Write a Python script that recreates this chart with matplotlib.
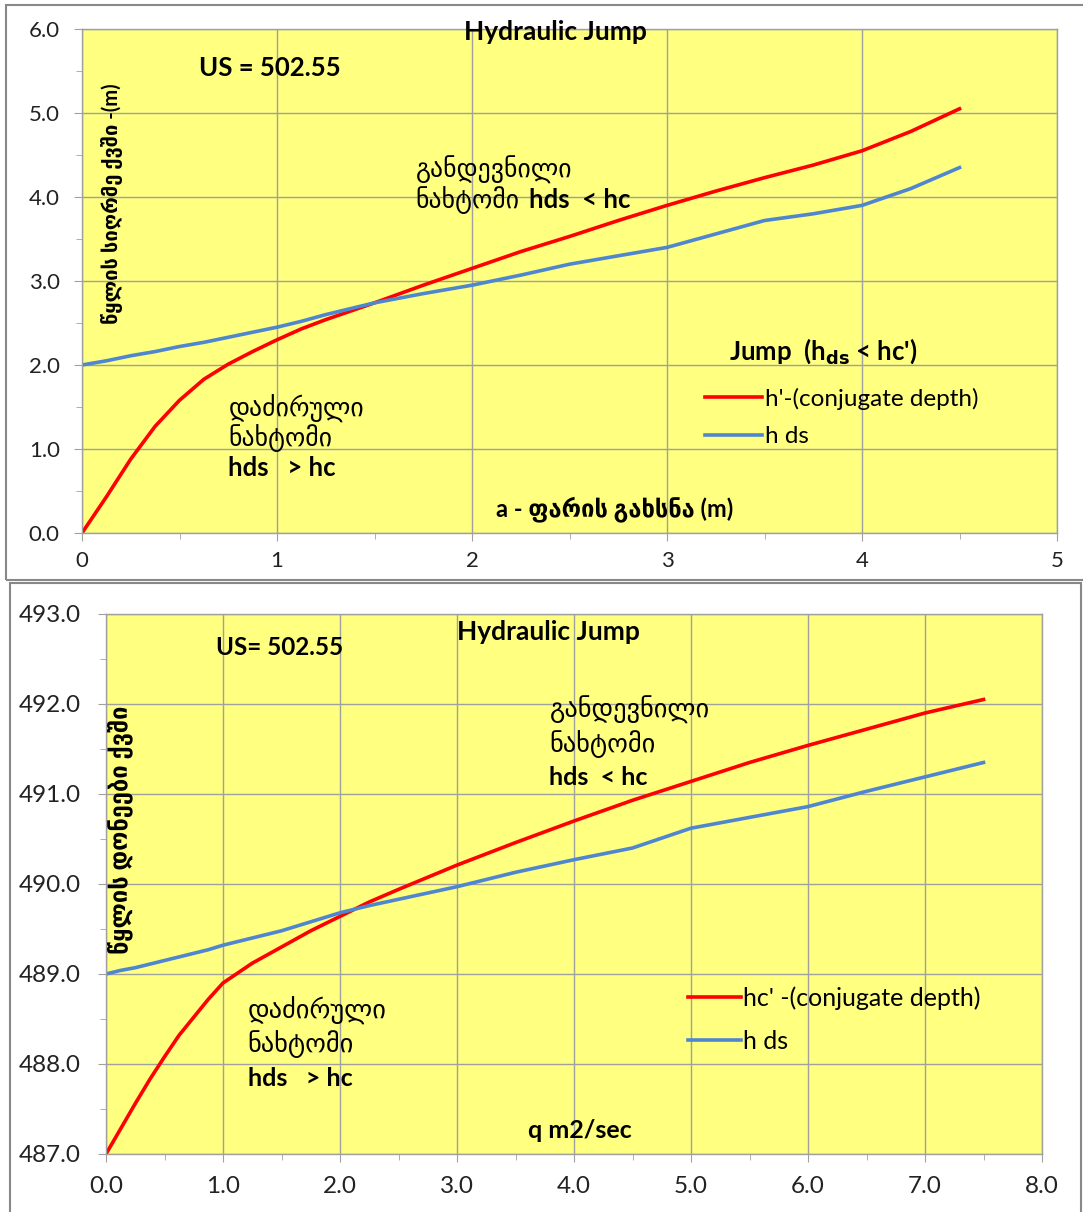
import matplotlib
matplotlib.use("Agg")
import matplotlib.pyplot as plt
from matplotlib.patches import Rectangle
from matplotlib.ticker import MultipleLocator, FormatStrFormatter

plt.rcParams['font.family'] = ['Lato', 'DejaVu Sans']

# top chart: gate opening a (m) vs depth (m)
a_open = [0, 0.125, 0.25, 0.375, 0.5, 0.625, 0.75, 0.875, 1.0, 1.125, 1.25, 1.375,
          1.5, 1.75, 2.0, 2.25, 2.5, 2.75, 3.0, 3.25, 3.5, 3.75, 4.0, 4.25, 4.5]
h_conj_a = [0.0, 0.43, 0.88, 1.27, 1.58, 1.83, 2.01, 2.16, 2.3, 2.43, 2.54, 2.64,
            2.74, 2.95, 3.15, 3.35, 3.53, 3.72, 3.9, 4.07, 4.23, 4.38, 4.55, 4.78, 5.05]
h_ds_a = [2.0, 2.05, 2.11, 2.16, 2.22, 2.27, 2.33, 2.39, 2.45, 2.52, 2.6, 2.67,
          2.74, 2.85, 2.95, 3.07, 3.2, 3.3, 3.4, 3.56, 3.72, 3.8, 3.9, 4.1, 4.35]

# bottom chart: unit discharge q vs water levels
q_vals = [0, 0.125, 0.25, 0.375, 0.5, 0.625, 0.75, 0.875, 1.0, 1.25, 1.5, 1.75,
          2.0, 2.25, 2.5, 3.0, 3.5, 4.0, 4.5, 5.0, 5.5, 6.0, 6.5, 7.0, 7.5]
h_conj_q = [487.0, 487.28, 487.56, 487.83, 488.08, 488.32, 488.52, 488.72, 488.9,
            489.12, 489.3, 489.48, 489.64, 489.8, 489.94, 490.21, 490.46, 490.7,
            490.93, 491.14, 491.35, 491.54, 491.72, 491.9, 492.05]
h_ds_q = [489.0, 489.04, 489.07, 489.11, 489.15, 489.19, 489.23, 489.27, 489.32,
          489.4, 489.48, 489.58, 489.68, 489.76, 489.83, 489.97, 490.13, 490.27,
          490.4, 490.62, 490.74, 490.86, 491.03, 491.19, 491.35]

RED = '#FF0000'
BLUE = '#4F86D0'
BG = '#FFFF80'
GRID = '#A0A0A0'
TXT = '#222222'

fig = plt.figure(figsize=(10.83, 12.12), dpi=100)

# outer chart boxes
fig.patches.append(Rectangle((6 / 1083, 1 - 580 / 1212), 1.2, 575 / 1212,
                             transform=fig.transFigure, fill=False,
                             edgecolor='#888888', lw=1.5))
fig.patches.append(Rectangle((10 / 1083, -0.1), 1071 / 1083, 0.1 + 1 - 583 / 1212,
                             transform=fig.transFigure, fill=False,
                             edgecolor='#888888', lw=1.5))


def style_axes(ax):
    ax.set_facecolor(BG)
    ax.grid(True, which='major', color=GRID, lw=1.0)
    ax.set_axisbelow(True)
    for s in ax.spines.values():
        s.set_color(GRID)
        s.set_linewidth(1.0)
    ax.tick_params(which='both', direction='out', color=GRID, length=6)
    ax.tick_params(which='minor', length=4)
    ax.tick_params(labelcolor=TXT)


# ---------------- top chart ----------------
ax1 = fig.add_axes([82 / 1083, 1 - 533 / 1212, 975 / 1083, 504 / 1212])
style_axes(ax1)
ax1.plot(a_open, h_conj_a, color=RED, lw=2.6, label="h'-(conjugate depth)")
ax1.plot(a_open, h_ds_a, color=BLUE, lw=2.6, label="h ds")
ax1.set_xlim(0, 5)
ax1.set_ylim(0, 6)
ax1.xaxis.set_major_locator(MultipleLocator(1))
ax1.xaxis.set_minor_locator(MultipleLocator(0.5))
ax1.yaxis.set_major_locator(MultipleLocator(1))
ax1.yaxis.set_minor_locator(MultipleLocator(0.5))
ax1.yaxis.set_major_formatter(FormatStrFormatter('%.1f'))
ax1.tick_params(labelsize=16)
ax1.tick_params(axis='x', pad=7)
ax1.tick_params(axis='y', pad=10)

ax1.text(2.43, 5.96, "Hydraulic Jump", fontsize=19, fontweight='bold',
         ha='center', va='center')
ax1.text(0.6, 5.53, "US = 502.55", fontsize=18.5, fontweight='bold',
         va='center')
ax1.text(0.155, 3.92, "წყლის სიღრმე ქვში -(m)", rotation=90, fontsize=14.5,
         fontweight='bold', ha='center', va='center')
ax1.text(1.71, 4.23, "განდევნილი", fontsize=18.5, va='baseline')
ax1.text(1.71, 3.87, "ნახტომი", fontsize=18.5, va='baseline')
ax1.text(2.29, 3.87, "hds  < hc", fontsize=18.5, fontweight='bold', va='baseline')
ax1.text(3.32, 2.07, r"Jump  (h$_\mathbf{ds}$ < hc')", fontsize=18.5,
         fontweight='bold', va='baseline')
ax1.text(0.75, 1.38, "დაძირული", fontsize=18.5, va='baseline')
ax1.text(0.75, 1.04, "ნახტომი", fontsize=18.5, va='baseline')
ax1.text(0.75, 0.68, "hds   > hc", fontsize=18.5, fontweight='bold', va='baseline')
ax1.text(2.73, 0.28, "a - ფარის გახსნა (m)", fontsize=17, fontweight='bold',
         ha='center', va='center')
ax1.legend(loc='upper left', bbox_to_anchor=(0.639, 0.288), frameon=False,
           fontsize=17.5, handlelength=2.35, handletextpad=0.1,
           labelspacing=0.68, borderaxespad=0, borderpad=0)

# ---------------- bottom chart ----------------
ax2 = fig.add_axes([106 / 1083, 1 - 1154 / 1212, 936 / 1083, 540 / 1212])
style_axes(ax2)
ax2.plot(q_vals, h_conj_q, color=RED, lw=2.6, label="hc' -(conjugate depth)")
ax2.plot(q_vals, h_ds_q, color=BLUE, lw=2.6, label="h ds")
ax2.set_xlim(0, 8)
ax2.set_ylim(487, 493)
ax2.xaxis.set_major_locator(MultipleLocator(1))
ax2.xaxis.set_minor_locator(MultipleLocator(0.5))
ax2.yaxis.set_major_locator(MultipleLocator(1))
ax2.yaxis.set_minor_locator(MultipleLocator(0.5))
ax2.xaxis.set_major_formatter(FormatStrFormatter('%.1f'))
ax2.yaxis.set_major_formatter(FormatStrFormatter('%.1f'))
ax2.tick_params(labelsize=17.5)
ax2.tick_params(axis='x', pad=10)
ax2.tick_params(axis='y', pad=12)

ax2.text(3.78, 492.8, "Hydraulic Jump", fontsize=19, fontweight='bold',
         ha='center', va='center')
ax2.text(0.94, 492.63, "US= 502.55", fontsize=17.5, fontweight='bold',
         va='center')
ax2.text(0.12, 490.6, "წყლის დონეები ქვში", rotation=90, fontsize=17,
         fontweight='bold', ha='center', va='center')
ax2.text(3.79, 491.85, "განდევნილი", fontsize=19, va='baseline')
ax2.text(3.79, 491.47, "ნახტომი", fontsize=19, va='baseline')
ax2.text(3.79, 491.1, "hds  < hc", fontsize=18, fontweight='bold', va='baseline')
ax2.text(1.21, 488.5, "დაძირული", fontsize=19, va='baseline')
ax2.text(1.21, 488.13, "ნახტომი", fontsize=19, va='baseline')
ax2.text(1.21, 487.75, "hds   > hc", fontsize=18, fontweight='bold', va='baseline')
ax2.text(4.05, 487.26, "q m2/sec", fontsize=18, fontweight='bold',
         ha='center', va='center')
ax2.legend(loc='upper left', bbox_to_anchor=(0.622, 0.31), frameon=False,
           fontsize=18, handlelength=2.1, handletextpad=0.1,
           labelspacing=0.8, borderaxespad=0, borderpad=0)

fig.savefig("out.png", dpi=100)
